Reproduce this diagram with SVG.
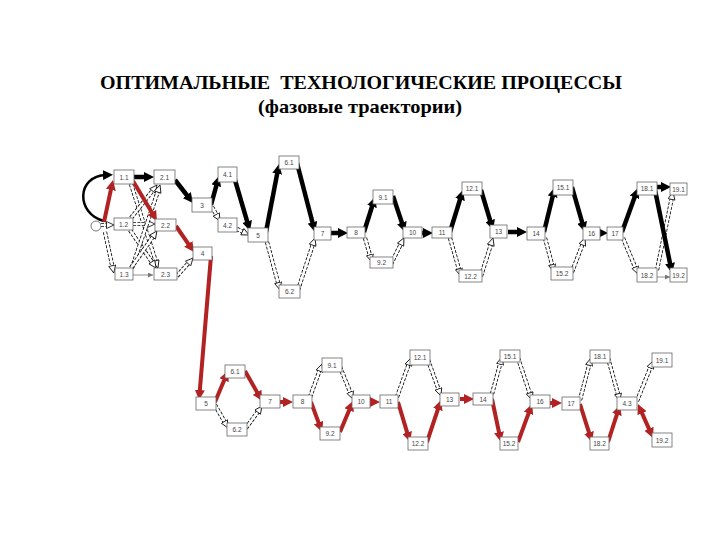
<svg xmlns="http://www.w3.org/2000/svg" width="720" height="540" viewBox="0 0 720 540">
<style>
.t{font-family:"Liberation Serif","Times New Roman",serif;font-weight:bold;font-size:19px;fill:#000}
.n rect{fill:#fff;stroke:#666;stroke-width:0.8}
.n text{font-family:"Liberation Sans",Arial,sans-serif;font-size:6.5px;fill:#444;text-anchor:middle;dominant-baseline:central}
.b{stroke:#000;stroke-width:4.5;fill:none;marker-end:url(#ab)}
.r{stroke:#b22222;stroke-width:4;fill:none;marker-end:url(#ar)}
.ho{stroke:#000;stroke-width:4.2;fill:none;stroke-dasharray:3 1.4}
.hi{stroke:#fff;stroke-width:2.6;fill:none;marker-end:url(#ah)}
.th{stroke:#777;stroke-width:0.8;fill:none;marker-end:url(#at)}
</style>
<defs>
<marker id="ab" markerUnits="userSpaceOnUse" markerWidth="10" markerHeight="10" refX="3" refY="5" orient="auto"><path d="M0,0 L10,5 L0,10 z" fill="#000"/></marker>
<marker id="ar" markerUnits="userSpaceOnUse" markerWidth="10" markerHeight="10" refX="3" refY="5" orient="auto"><path d="M0,0 L10,5 L0,10 z" fill="#b22222"/></marker>
<marker id="ars" markerUnits="userSpaceOnUse" markerWidth="10" markerHeight="10" refX="3" refY="5" orient="auto-start-reverse"><path d="M0,0 L10,5 L0,10 z" fill="#b22222"/></marker>
<marker id="ah" markerUnits="userSpaceOnUse" markerWidth="9" markerHeight="9" refX="1" refY="4" orient="auto"><path d="M0.5,0.5 L8,4 L0.5,7.5 z" fill="#fff" stroke="#000" stroke-width="0.8"/></marker>
<marker id="at" markerUnits="userSpaceOnUse" markerWidth="6" markerHeight="6" refX="5" refY="2.5" orient="auto"><path d="M0,0 L5,2.5 L0,5 z" fill="#777"/></marker>
</defs>
<text class="t" x="361" y="89" text-anchor="middle" textLength="522" lengthAdjust="spacingAndGlyphs" xml:space="preserve">ОПТИМАЛЬНЫЕ  ТЕХНОЛОГИЧЕСКИЕ ПРОЦЕССЫ</text>
<text class="t" x="360" y="113" text-anchor="middle" textLength="204" lengthAdjust="spacingAndGlyphs">(фазовые траектории)</text>

<g id="connectors">
<circle cx="96" cy="226" r="5" fill="#fff" stroke="#555" stroke-width="0.8"/>
<path class="ho" d="M101,225 L107,225"/><path class="hi" d="M101,225 L107,225"/>
<path class="ho" d="M105,232 L112.3,266.2"/><path class="hi" d="M105,232 L112.3,266.2"/>
<path class="ho" d="M131,184 L155.8,261.3"/><path class="hi" d="M131,184 L155.8,261.3"/>
<path class="ho" d="M131,218 L152.7,190.5"/><path class="hi" d="M131,218 L152.7,190.5"/>
<path class="ho" d="M133,224 L148,224"/><path class="hi" d="M133,224 L148,224"/>
<path class="ho" d="M130,230 L152.1,262.3"/><path class="hi" d="M130,230 L152.1,262.3"/>
<path class="ho" d="M132,268 L157.8,191.6"/><path class="hi" d="M132,268 L157.8,191.6"/>
<path class="ho" d="M131,268 L152.9,236.7"/><path class="hi" d="M131,268 L152.9,236.7"/>
<path class="ho" d="M177,276 L188.4,263.2"/><path class="hi" d="M177,276 L188.4,263.2"/>
<path class="ho" d="M212,207 L216.5,214.9"/><path class="hi" d="M212,207 L216.5,214.9"/>
<path class="ho" d="M237,229 L242.8,231.9"/><path class="hi" d="M237,229 L242.8,231.9"/>
<path class="ho" d="M267,242 L278.2,283.2"/><path class="hi" d="M267,242 L278.2,283.2"/>
<path class="ho" d="M298,290 L312.8,244.7"/><path class="hi" d="M298,290 L312.8,244.7"/>
<path class="ho" d="M365,238 L370,255.3"/><path class="hi" d="M365,238 L370,255.3"/>
<path class="ho" d="M391,264 L400.8,244.2"/><path class="hi" d="M391,264 L400.8,244.2"/>
<path class="ho" d="M450,238 L459,269.3"/><path class="hi" d="M450,238 L459,269.3"/>
<path class="ho" d="M481,276 L490.9,244.7"/><path class="hi" d="M481,276 L490.9,244.7"/>
<path class="ho" d="M545,238 L552.2,265.2"/><path class="hi" d="M545,238 L552.2,265.2"/>
<path class="ho" d="M572,272 L582.5,244.5"/><path class="hi" d="M572,272 L582.5,244.5"/>
<path class="ho" d="M623,238 L635.3,267.6"/><path class="hi" d="M623,238 L635.3,267.6"/>
<path class="ho" d="M657,270 L671.6,198.9"/><path class="hi" d="M657,270 L671.6,198.9"/>
<path class="ho" d="M215,405 L224.6,421.9"/><path class="hi" d="M215,405 L224.6,421.9"/>
<path class="ho" d="M246,428 L257.9,411.7"/><path class="hi" d="M246,428 L257.9,411.7"/>
<path class="ho" d="M310,397 L319.6,370.6"/><path class="hi" d="M310,397 L319.6,370.6"/>
<path class="ho" d="M340,367 L350.3,392.5"/><path class="hi" d="M340,367 L350.3,392.5"/>
<path class="ho" d="M397,397 L408.6,364.6"/><path class="hi" d="M397,397 L408.6,364.6"/>
<path class="ho" d="M428,360 L438.6,389.4"/><path class="hi" d="M428,360 L438.6,389.4"/>
<path class="ho" d="M492,394 L500.2,363.8"/><path class="hi" d="M492,394 L500.2,363.8"/>
<path class="ho" d="M518,358 L529.8,393.4"/><path class="hi" d="M518,358 L529.8,393.4"/>
<path class="ho" d="M580,400 L589.2,364.8"/><path class="hi" d="M580,400 L589.2,364.8"/>
<path class="ho" d="M608,358 L618.1,394.3"/><path class="hi" d="M608,358 L618.1,394.3"/>
<path class="ho" d="M637,401 L650.4,367.5"/><path class="hi" d="M637,401 L650.4,367.5"/>
<path class="th" d="M133,275 L153,275"/>
<path class="th" d="M657,277 L670,277"/>
<path class="b" style="stroke-width:2.5" d="M104,221 C76,214 76,176 106,175"/>
<path class="b" d="M134,177 L147,177"/>
<path class="b" d="M175,180 L188.7,197.5"/>
<path class="b" d="M211,205 L217.1,182.8"/>
<path class="b" d="M235,180 L248,224.3"/>
<path class="b" d="M266,232 L277.7,170.9"/>
<path class="b" d="M297,163 L313.2,225.2"/>
<path class="b" d="M331,233 L341,233"/>
<path class="b" d="M364,232 L372.9,203.7"/>
<path class="b" d="M393,196 L402.8,225.4"/>
<path class="b" d="M422,233 L426,233"/>
<path class="b" d="M450,232 L460.9,196.7"/>
<path class="b" d="M481,190 L491,223.3"/>
<path class="b" d="M508,232 L520,232"/>
<path class="b" d="M544,232 L553.3,193.8"/>
<path class="b" d="M572,187 L583,225.3"/>
<path class="b" d="M599,233 L601,233"/>
<path class="b" d="M622,232 L635.6,194.6"/>
<path class="b" d="M657,187 L664,187"/>
<path class="b" d="M655,190 L670.6,266.1"/>
<path class="r" d="M104,222 L111.5,186.9"/>
<path class="r" d="M133,181 L153.4,215"/>
<path class="r" d="M176,226 L190,246.3"/>
<path class="r" d="M211,256 L199.6,393"/>
<path class="r" d="M215,402 L225.3,377.4"/>
<path class="r" d="M245,371 L258.6,394.9"/>
<path class="r" d="M280,402 L286,402"/>
<path class="r" d="M311,402 L319.6,425.4"/>
<path class="r" d="M340,432 L350.3,407.4"/>
<path class="r" d="M370,402 L373,402"/>
<path class="r" d="M398,402 L408,435.3"/>
<path class="r" d="M427,442 L438.8,406.7"/>
<path class="r" d="M460,399 L467,399"/>
<path class="r" d="M492,399 L499.6,435.1"/>
<path class="r" d="M518,442 L529.6,410.6"/>
<path class="r" d="M550,403 L555,403"/>
<path class="r" d="M580,404 L589.9,435.3"/>
<path class="r" d="M608,442 L617.8,411.7"/>
<path class="r" d="M640.8,410.4 L650.2,431.6" style="marker-start:url(#ars)"/>
</g>

<g id="n1_1" class="n"><rect x="114" y="170" width="20" height="14"/><text x="124" y="177">1.1</text></g>
<g id="n2_1" class="n"><rect x="154" y="170" width="21" height="14"/><text x="164.5" y="177">2.1</text></g>
<g id="n1_2" class="n"><rect x="114" y="218" width="19" height="12"/><text x="123.5" y="224">1.2</text></g>
<g id="n2_2" class="n"><rect x="155" y="219" width="21" height="12"/><text x="165.5" y="225">2.2</text></g>
<g id="n1_3" class="n"><rect x="115" y="268" width="18" height="12"/><text x="124" y="274">1.3</text></g>
<g id="n2_3" class="n"><rect x="154" y="268" width="23" height="12"/><text x="165.5" y="274">2.3</text></g>
<g id="n3" class="n"><rect x="192" y="198" width="20" height="14"/><text x="202" y="205">3</text></g>
<g id="n4_1" class="n"><rect x="218" y="167" width="19" height="15"/><text x="227.5" y="174.5">4.1</text></g>
<g id="n4_2" class="n"><rect x="218" y="218" width="19" height="14"/><text x="227.5" y="225">4.2</text></g>
<g id="n4" class="n"><rect x="193" y="247" width="19" height="13"/><text x="202.5" y="253.5">4</text></g>
<g id="n5" class="n"><rect x="248" y="228" width="20" height="14"/><text x="258" y="235">5</text></g>
<g id="n6_1" class="n"><rect x="279" y="156" width="20" height="13"/><text x="289" y="162.5">6.1</text></g>
<g id="n6_2" class="n"><rect x="279" y="285" width="21" height="13"/><text x="289.5" y="291.5">6.2</text></g>
<g id="n7" class="n"><rect x="314" y="227" width="17" height="13"/><text x="322.5" y="233.5">7</text></g>
<g id="n8" class="n"><rect x="347" y="227" width="18" height="11"/><text x="356" y="232.5">8</text></g>
<g id="n9_1" class="n"><rect x="373" y="190" width="20" height="14"/><text x="383" y="197">9.1</text></g>
<g id="n9_2" class="n"><rect x="370" y="257" width="23" height="11"/><text x="381.5" y="262.5">9.2</text></g>
<g id="n10" class="n"><rect x="403" y="227" width="19" height="11"/><text x="412.5" y="232.5">10</text></g>
<g id="n11" class="n"><rect x="432" y="227" width="20" height="11"/><text x="442" y="232.5">11</text></g>
<g id="n12_1" class="n"><rect x="462" y="182" width="20" height="13"/><text x="472" y="188.5">12.1</text></g>
<g id="n12_2" class="n"><rect x="459" y="270" width="23" height="12"/><text x="470.5" y="276">12.2</text></g>
<g id="n13" class="n"><rect x="490" y="225" width="17" height="13"/><text x="498.5" y="231.5">13</text></g>
<g id="n14" class="n"><rect x="527" y="227" width="18" height="13"/><text x="536" y="233.5">14</text></g>
<g id="n15_1" class="n"><rect x="553" y="180" width="20" height="15"/><text x="563" y="187.5">15.1</text></g>
<g id="n15_2" class="n"><rect x="551" y="267" width="22" height="13"/><text x="562" y="273.5">15.2</text></g>
<g id="n16" class="n"><rect x="583" y="227" width="17" height="13"/><text x="591.5" y="233.5">16</text></g>
<g id="n17" class="n"><rect x="607" y="227" width="16" height="13"/><text x="615" y="233.5">17</text></g>
<g id="n18_1" class="n"><rect x="637" y="182" width="20" height="13"/><text x="647" y="188.5">18.1</text></g>
<g id="n18_2" class="n"><rect x="637" y="268" width="20" height="14"/><text x="647" y="275">18.2</text></g>
<g id="n19_1" class="n"><rect x="670" y="183" width="17" height="12"/><text x="678.5" y="189">19.1</text></g>
<g id="n19_2" class="n"><rect x="670" y="268" width="17" height="14"/><text x="678.5" y="275">19.2</text></g>

<g id="b5" class="n"><rect x="196" y="397" width="20" height="13"/><text x="206" y="403.5">5</text></g>
<g id="b6_1" class="n"><rect x="225" y="365" width="20" height="13"/><text x="235" y="371.5">6.1</text></g>
<g id="b6_2" class="n"><rect x="227" y="423" width="20" height="13"/><text x="237" y="429.5">6.2</text></g>
<g id="b7" class="n"><rect x="260" y="395" width="20" height="13"/><text x="270" y="401.5">7</text></g>
<g id="b8" class="n"><rect x="293" y="395" width="19" height="13"/><text x="302.5" y="401.5">8</text></g>
<g id="b9_1" class="n"><rect x="322" y="358" width="20" height="14"/><text x="332" y="365">9.1</text></g>
<g id="b9_2" class="n"><rect x="320" y="427" width="20" height="13"/><text x="330" y="433.5">9.2</text></g>
<g id="b10" class="n"><rect x="352" y="395" width="18" height="13"/><text x="361" y="401.5">10</text></g>
<g id="b11" class="n"><rect x="380" y="395" width="18" height="13"/><text x="389" y="401.5">11</text></g>
<g id="b12_1" class="n"><rect x="410" y="350" width="20" height="15"/><text x="420" y="357.5">12.1</text></g>
<g id="b12_2" class="n"><rect x="408" y="437" width="20" height="13"/><text x="418" y="443.5">12.2</text></g>
<g id="b13" class="n"><rect x="440" y="393" width="19" height="13"/><text x="449.5" y="399.5">13</text></g>
<g id="b14" class="n"><rect x="473" y="393" width="20" height="12"/><text x="483" y="399">14</text></g>
<g id="b15_1" class="n"><rect x="500" y="350" width="20" height="12"/><text x="510" y="356">15.1</text></g>
<g id="b15_2" class="n"><rect x="500" y="437" width="18" height="13"/><text x="509" y="443.5">15.2</text></g>
<g id="b16" class="n"><rect x="530" y="395" width="20" height="13"/><text x="540" y="401.5">16</text></g>
<g id="b17" class="n"><rect x="562" y="397" width="18" height="13"/><text x="571" y="403.5">17</text></g>
<g id="b18_1" class="n"><rect x="590" y="350" width="20" height="13"/><text x="600" y="356.5">18.1</text></g>
<g id="b18_2" class="n"><rect x="590" y="437" width="19" height="13"/><text x="599.5" y="443.5">18.2</text></g>
<g id="b4_3" class="n"><rect x="617" y="397" width="20" height="13"/><text x="627" y="403.5">4.3</text></g>
<g id="b19_1" class="n"><rect x="652" y="353" width="20" height="14"/><text x="662" y="360">19.1</text></g>
<g id="b19_2" class="n"><rect x="652" y="433" width="20" height="14"/><text x="662" y="440">19.2</text></g>
</svg>
